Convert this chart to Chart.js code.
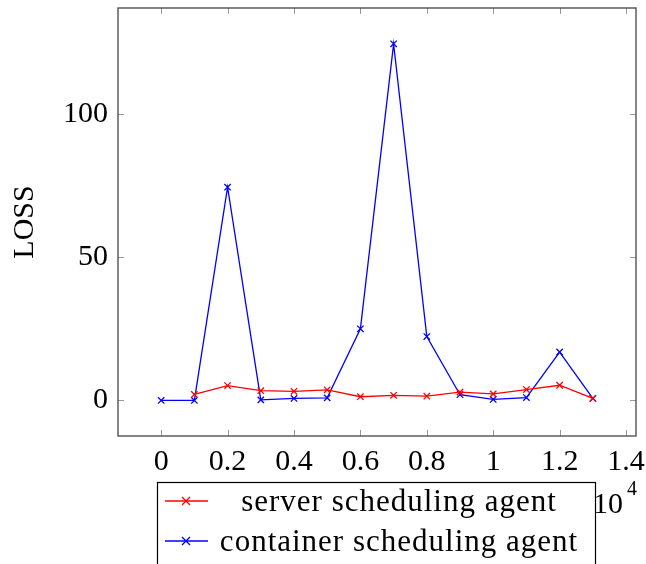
<!DOCTYPE html>
<html>
<head>
<meta charset="utf-8">
<script src="https://cdn.jsdelivr.net/npm/chart.js@4.4.0/dist/chart.umd.min.js"></script>
<style>
  html, body { margin: 0; padding: 0; background: #fff; }
  #wrap { width: 646px; height: 564px; }
</style>
</head>
<body>
<div id="wrap"><canvas id="lossChart" width="646" height="564"></canvas></div>
<script>
// training steps and loss values
const steps = [0, 1000, 2000, 3000, 4000, 5000, 6000, 7000, 8000, 9000, 10000, 11000, 12000, 13000];
const serverSteps = [1000, 2000, 3000, 4000, 5000, 6000, 7000, 8000, 9000, 10000, 11000, 12000, 13000];
const serverLoss = [2.1, 5.2, 3.4, 3.2, 3.7, 1.3, 1.8, 1.5, 2.9, 2.3, 3.8, 5.3, 0.7];
const containerLoss = [0, 0, 74.4, 0.2, 0.7, 0.9, 25.0, 124.4, 22.3, 2.0, 0.35, 1.0, 16.9, 0.7];
const xTicks = [0, 2000, 4000, 6000, 8000, 10000, 12000, 14000];
const yTicks = [0, 50, 100];
const seriesNames = ["server scheduling agent", "container scheduling agent"];

const FONT = "'Liberation Serif', 'Times New Roman', serif";
const RED = "#ff0000";
const BLUE = "#0000ff";

function toPoints(xs, ys) {
  return xs.map((x, i) => ({ x: x, y: ys[i] }));
}

function drawCross(ctx, x, y, r, color) {
  ctx.save();
  ctx.strokeStyle = color;
  ctx.lineWidth = 1.3;
  ctx.beginPath();
  ctx.moveTo(x - r, y - r); ctx.lineTo(x + r, y + r);
  ctx.moveTo(x - r, y + r); ctx.lineTo(x + r, y - r);
  ctx.stroke();
  ctx.restore();
}

// frame with inward ticks, the x10^4 factor and the legend box
const pgfDecor = {
  id: "pgfDecor",
  afterDatasetsDraw(chart) {
    const ctx = chart.ctx;
    const a = chart.chartArea;
    const xs = chart.scales.x;
    const ys = chart.scales.y;
    ctx.save();
    ctx.strokeStyle = "#999";
    ctx.lineWidth = 1;
    xs.ticks.forEach((t) => {
      const px = Math.round(xs.getPixelForValue(t.value)) + 0.5;
      ctx.beginPath();
      ctx.moveTo(px, a.bottom); ctx.lineTo(px, a.bottom - 6);
      ctx.moveTo(px, a.top); ctx.lineTo(px, a.top + 6);
      ctx.stroke();
    });
    ys.ticks.forEach((t) => {
      const py = Math.round(ys.getPixelForValue(t.value)) + 0.5;
      ctx.beginPath();
      ctx.moveTo(a.left, py); ctx.lineTo(a.left + 6, py);
      ctx.moveTo(a.right, py); ctx.lineTo(a.right - 6, py);
      ctx.stroke();
    });
    ctx.strokeStyle = "#444";
    ctx.lineWidth = 1.3;
    ctx.strokeRect(a.left, a.top, a.right - a.left, a.bottom - a.top);

    // x scale factor
    ctx.fillStyle = "#000";
    ctx.textBaseline = "middle";
    ctx.textAlign = "left";
    ctx.font = "30px " + FONT;
    ctx.fillText("10", 593, 505);
    ctx.font = "20px " + FONT;
    ctx.fillText("4", 627, 490);

    // legend
    ctx.fillStyle = "#fff";
    ctx.fillRect(157, 482, 438, 90);
    ctx.strokeStyle = "#000";
    ctx.lineWidth = 1.2;
    ctx.strokeRect(157.5, 482.5, 438, 100);
    const rows = [501, 541];
    const colors = [RED, BLUE];
    ctx.font = "31px " + FONT;
    ctx.letterSpacing = "1px";
    ctx.textAlign = "center";
    rows.forEach((ry, i) => {
      ctx.strokeStyle = colors[i];
      ctx.lineWidth = 1.3;
      ctx.beginPath();
      ctx.moveTo(165, ry); ctx.lineTo(208, ry);
      ctx.stroke();
      drawCross(ctx, 186, ry, 4, colors[i]);
      ctx.fillStyle = "#000";
      ctx.fillText(seriesNames[i], 399, ry + 2);
    });
    ctx.restore();
  }
};

new Chart(document.getElementById("lossChart"), {
  type: "line",
  data: {
    datasets: [
      {
        label: seriesNames[0],
        data: toPoints(serverSteps, serverLoss),
        borderColor: RED,
        backgroundColor: RED,
        borderWidth: 1.3,
        pointStyle: "crossRot",
        pointRadius: 4.5,
        pointBorderWidth: 1.3,
        tension: 0,
      },
      {
        label: seriesNames[1],
        data: toPoints(steps, containerLoss),
        borderColor: BLUE,
        backgroundColor: BLUE,
        borderWidth: 1.3,
        pointStyle: "crossRot",
        pointRadius: 4.5,
        pointBorderWidth: 1.3,
        tension: 0,
      },
    ],
  },
  options: {
    responsive: false,
    animation: false,
    layout: { padding: { left: 0, right: 10, top: 8, bottom: 0 } },
    plugins: { legend: { display: false }, tooltip: { enabled: false } },
    scales: {
      x: {
        type: "linear",
        min: -1300,
        max: 14300,
        afterBuildTicks: (s) => { s.ticks = xTicks.map((v) => ({ value: v })); },
        afterFit: (s) => { s.height = 128; s.paddingLeft = 0; s.paddingRight = 0; },
        grid: { display: false, drawTicks: false },
        border: { display: false },
        ticks: {
          padding: 8,
          color: "#000",
          font: { family: FONT, size: 30 },
          maxRotation: 0,
          autoSkip: false,
          callback: (v) => String(+(v / 10000).toFixed(1)),
        },
      },
      y: {
        min: -12.4,
        max: 136.9,
        afterBuildTicks: (s) => { s.ticks = yTicks.map((v) => ({ value: v })); },
        afterFit: (s) => { s.width = 118; s.paddingTop = 0; s.paddingBottom = 0; },
        grid: { display: false, drawTicks: false },
        border: { display: false },
        title: {
          display: true,
          text: "LOSS",
          color: "#000",
          font: { family: FONT, size: 30 },
          padding: { top: 7, bottom: 0 },
        },
        ticks: {
          padding: 10,
          color: "#000",
          font: { family: FONT, size: 30 },
        },
      },
    },
  },
  plugins: [pgfDecor],
});
</script>
</body>
</html>
